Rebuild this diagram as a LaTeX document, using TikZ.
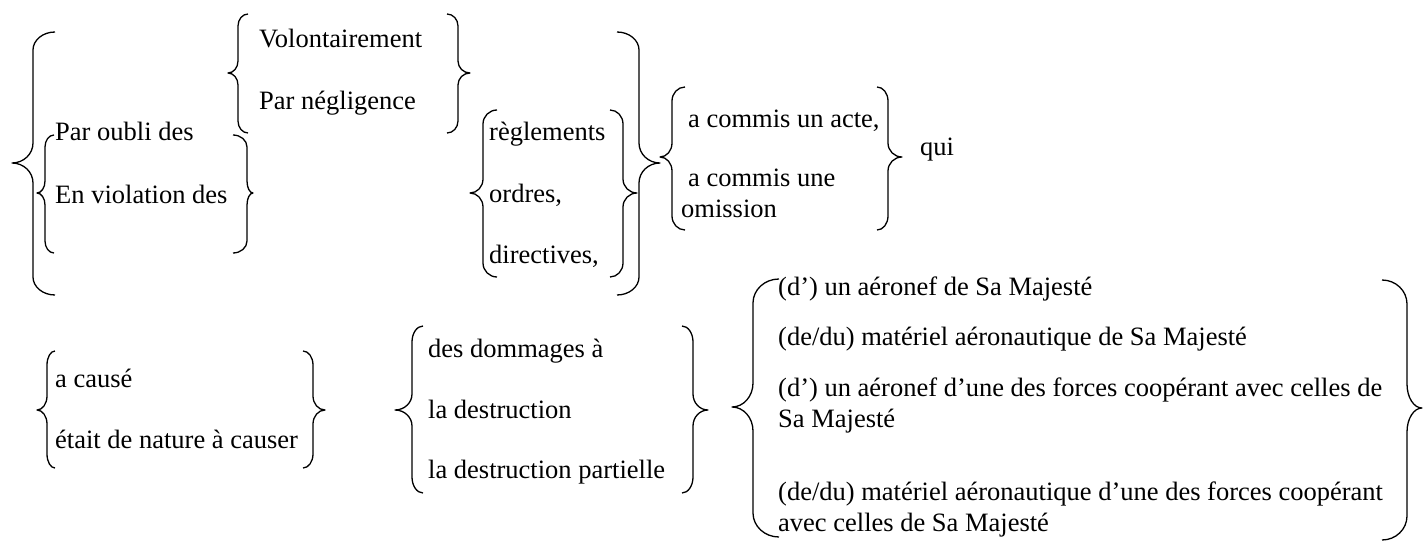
\documentclass[tikz,border=0pt]{standalone}
\usepackage{fontspec}
\setmainfont{Liberation Serif}
\newcommand{\tf}{\fontsize{26.5pt}{30.5pt}\selectfont}
% brace: xe, xl, xt, ytop, ymid, ybot, rEnd, rTip
\newcommand{\Brc}[8]{%
 \draw[br] (#1,#4) .. controls ({#1-0.552*(#1-#2)},#4) and (#2,{#4+#7-0.552*#7}) .. (#2,{#4+#7})
 -- (#2,{#5-#8}) .. controls (#2,{#5-#8+0.552*#8}) and ({#3+0.552*(#2-#3)},#5) .. (#3,#5)
 .. controls ({#3+0.552*(#2-#3)},#5) and (#2,{#5+#8-0.552*#8}) .. (#2,{#5+#8})
 -- (#2,{#6-#7}) .. controls (#2,{#6-#7+0.552*#7}) and ({#1-0.552*(#1-#2)},#6) .. (#1,#6);}
\begin{document}
\begin{tikzpicture}[x=1pt,y=-1pt,
  txt/.style={anchor=base west, inner sep=0pt, font=\tf, align=left},
  br/.style={line width=1.3pt, line join=round}]
\useasboundingbox (0,0) rectangle (1425,543);
% top texts
\node[txt] (vol) at (259,48) {Volontairement};
\node[txt] (neg) at (259,110) {Par négligence};
\node[txt] (oub) at (55,140) {Par oubli des};
\node[txt] (vio) at (55,203) {En violation des};
\node[txt] (reg) at (489,140) {règlements};
\node[txt] (ord) at (489,202) {ordres,};
\node[txt] (dir) at (489,263) {directives,};
\node[txt] (acte) at (688,127) {a commis un acte,};
\node[txt] (omi) at (681,217) {\hspace*{7pt}a commis une\\omission};
\node[txt] (qui) at (920,155) {qui};
% bottom texts
\node[txt] (cau) at (55,387) {a causé};
\node[txt] (nat) at (55,448) {était de nature à causer};
\node[txt] (dom) at (428,357) {des dommages à};
\node[txt] (des) at (428,418) {la destruction};
\node[txt] (par) at (428,478) {la destruction partielle};
\node[txt] (a1) at (778,295) {(d’) un aéronef de Sa Majesté};
\node[txt] (a2) at (778,345) {(de/du) matériel aéronautique de Sa Majesté};
\node[txt] (a3) at (778,427) {(d’) un aéronef d’une des forces coopérant avec celles de\\Sa Majesté};
\node[txt] (a4) at (778,531) {(de/du) matériel aéronautique d’une des forces coopérant\\avec celles de Sa Majesté};
% braces
\Brc{55}{33}{12}{32}{163}{295}{18}{20}
\Brc{248}{238}{228}{14}{73}{133}{12}{12}
\Brc{447}{458}{470}{14}{73}{133}{12}{12}
\Brc{54}{45}{37}{135}{193}{253}{12}{12}
\Brc{233}{247}{253}{135}{193}{253}{12}{12}
\Brc{497}{483}{470}{110}{193}{277}{14}{14}
\Brc{610}{623}{637}{110}{193}{277}{14}{14}
\Brc{617}{639}{660}{32}{163}{295}{18}{20}
\Brc{685}{672}{660}{87}{157}{230}{14}{14}
\Brc{877}{888}{902}{87}{157}{230}{14}{14}
\Brc{55}{47}{37}{351}{410}{468}{14}{14}
\Brc{303}{313}{325}{351}{410}{468}{14}{14}
\Brc{423}{412}{395}{326}{410}{493}{16}{16}
\Brc{682}{693}{708}{326}{410}{493}{16}{16}
\Brc{779}{753}{732}{279}{407}{537}{24}{24}
\Brc{1382}{1407}{1422}{280}{408}{540}{24}{24}
\end{tikzpicture}
\end{document}
